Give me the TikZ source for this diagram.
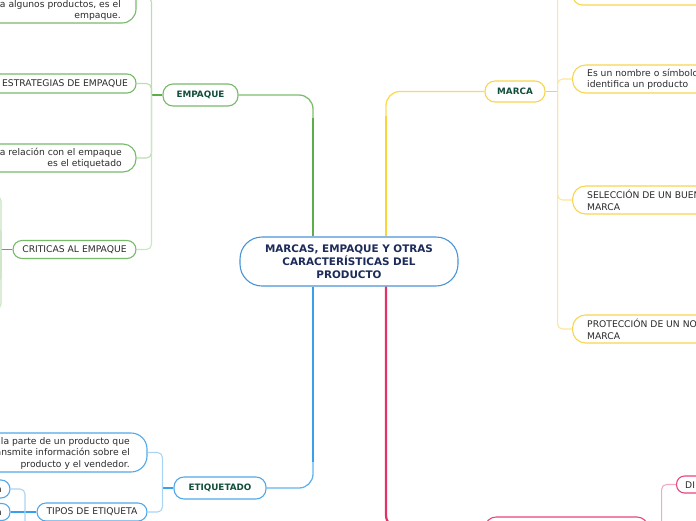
\documentclass[tikz,border=0pt]{standalone}
\usepackage{fontspec}
\setmainfont{DejaVu Sans}
\definecolor{gmain}{HTML}{5DAE4B}
\definecolor{gbord}{HTML}{78B96A}
\definecolor{glite}{HTML}{BADDB1}
\definecolor{ymain}{HTML}{F9D535}
\definecolor{ybord}{HTML}{F8D64C}
\definecolor{ylite}{HTML}{FCE69A}
\definecolor{bmain}{HTML}{38A0EA}
\definecolor{bcent}{HTML}{4A94D8}
\definecolor{bbord}{HTML}{52A8E8}
\definecolor{blite}{HTML}{A9D4F4}
\definecolor{pmain}{HTML}{E5306A}
\definecolor{pbord}{HTML}{E8457A}
\definecolor{plite}{HTML}{F5A9C4}
\definecolor{lblgreen}{HTML}{114F3A}
\definecolor{navy}{HTML}{1C2B59}
\definecolor{txt}{HTML}{2B2B2B}
\tikzset{
  box/.style={draw, line width=1.1pt, fill=white, inner sep=0pt},
  lbl/.style={font=\fontsize{9.2}{11.5}\selectfont, text=txt, inner sep=0pt},
  hdr/.style={font=\bfseries\fontsize{8.8}{10}\selectfont, text=lblgreen},
  thick main/.style={line width=2.2pt},
  mid main/.style={line width=1.3pt},
  sub/.style={line width=1.1pt, rounded corners=5pt},
}
\begin{document}
\begin{tikzpicture}[x=1pt,y=-1pt]
\useasboundingbox (0,0) rectangle (696,520);
\clip (0,0) rectangle (696,520);
\coordinate (gx) at (313,0);
\coordinate (yx) at (386,0);

% central
\node[box, draw=bcent, minimum width=218pt, minimum height=49pt, rounded corners=22pt,
      align=center, font=\bfseries\fontsize{10.4}{13}\selectfont, text=navy] (c) at (349,261.5)
      {MARCAS, EMPAQUE Y OTRAS\\CARACTERÍSTICAS DEL\\PRODUCTO};

% main topic nodes
\node[box, draw=gbord, minimum width=75pt, minimum height=22pt, rounded corners=10pt, hdr] (emp) at (200.5,95) {EMPAQUE};
\node[box, draw=ybord, minimum width=60pt, minimum height=21pt, rounded corners=10pt, hdr] (mar) at (515,91.5) {MARCA};
\node[box, draw=bbord, minimum width=92pt, minimum height=22pt, rounded corners=10pt, hdr] (eti) at (220,488) {ETIQUETADO};
\node[box, draw=pbord, minimum width=163pt, minimum height=24pt, rounded corners=11pt] (pk) at (566.5,529) {};

% main connectors
\coordinate (gturn) at (313,118);
\coordinate (yturn) at (386,116);
\coordinate (bturn) at (313,462);
\draw[gmain, thick main] (c.north -| gx) -- (gturn);
\draw[gmain!80!white, mid main, rounded corners=14pt] (gturn) |- (emp.east);
\draw[ymain, thick main] (c.north -| yx) -- (yturn);
\draw[ymain!85!white, mid main, rounded corners=14pt] (yturn) |- (mar.west);
\draw[bmain, thick main] (c.south -| gx) -- (bturn);
\draw[bmain!80!white, mid main, rounded corners=14pt] (bturn) |- (eti.east);
\draw[pmain, thick main, rounded corners=14pt] (c.south -| yx) |- (pk.west);

% EMPAQUE children
\node[box, draw=gbord, minimum width=166pt, minimum height=52pt, rounded corners=14pt] (e1) at (53,-3) {};
\node[lbl, anchor=east, align=right] (e1t) at (121,10.5) {ra algunos productos, es el\\empaque.};
\node[box, draw=gbord, minimum width=156pt, minimum height=19pt, rounded corners=9pt] (e2) at (58,83.5) {};
\node[lbl, anchor=east] (e2t) at (128,84) {ESTRATEGIAS DE EMPAQUE};
\node[box, draw=gbord, minimum width=176pt, minimum height=28pt, rounded corners=13pt] (e3) at (48,158) {};
\node[lbl, anchor=east, align=right] (e3t) at (122,158.5) {a relación con el empaque\\es el etiquetado};
\node[box, draw=gbord, minimum width=123pt, minimum height=18pt, rounded corners=9pt, lbl] (e4) at (74.5,249.5) {CRITICAS AL EMPAQUE};

\draw[gmain, line width=1.1pt] (emp.west) -- ++(-11,0) coordinate (gv);
\draw[glite, sub] (gv) |- (e1.east);
\draw[glite, sub] (gv) |- (e2.east);
\draw[glite, sub] (gv) |- (e3.east);
\draw[glite!75!white, sub] (gv) |- (e4.east);

% CRITICAS children (off-screen)
\coordinate (k1) at (-10,196);
\coordinate (k2) at (-10,228);
\coordinate (k3) at (-10,282);
\coordinate (k4) at (-10,309);
\draw[gmain, line width=1.1pt] (e4.west) -- (1,249.5) coordinate (kv);
\draw[glite!80!white, sub] (kv) |- (k1);
\draw[glite!80!white, sub] (kv) |- (k2);
\draw[glite!80!white, sub] (kv) |- (k3);
\draw[glite!80!white, sub] (kv) |- (k4);

% MARCA children
\node[box, draw=ybord, minimum width=210pt, minimum height=22pt, rounded corners=10pt, anchor=west] (m0) at (572,-6) {};
\node[lbl, anchor=west] (m0t) at (587,-5) {RAZONES PARA MARCAR};
\node[box, draw=ybord, minimum width=210pt, minimum height=28pt, rounded corners=13pt, anchor=west] (m1) at (572,79) {};
\node[lbl, anchor=west, align=left] (m1t) at (587,79.5) {Es un nombre o símbolo que\\identifica un producto};
\node[box, draw=ybord, minimum width=210pt, minimum height=28pt, rounded corners=13pt, anchor=west] (m2) at (572,200) {};
\node[lbl, anchor=west, align=left] (m2t) at (587,200.5) {SELECCIÓN DE UN BUEN NOMBRE DE\\MARCA};
\node[box, draw=ybord, minimum width=210pt, minimum height=28pt, rounded corners=13pt, anchor=west] (m3) at (572,329) {};
\node[lbl, anchor=west, align=left] (m3t) at (587,329.5) {PROTECCIÓN DE UN NOMBRE DE\\MARCA};

\draw[ymain, line width=1.1pt] (mar.east) -- ++(12,0) coordinate (yv);
\draw[ylite, sub] (yv) |- (m0.west);
\draw[ylite, sub] (yv) |- (m1.west);
\draw[ylite, sub] (yv) |- (m2.west);
\draw[ylite, sub] (yv) |- (m3.west);

% ETIQUETADO children
\node[box, draw=bbord, minimum width=177pt, minimum height=39pt, rounded corners=16pt] (t1) at (58.5,452.5) {};
\node[lbl, anchor=east, align=right] (t1t) at (130,453) {la parte de un producto que\\ansmite información sobre el\\producto y el vendedor.};
\node[box, draw=bbord, minimum width=110pt, minimum height=18pt, rounded corners=9pt, lbl] (t2) at (92,512) {TIPOS DE ETIQUETA};

\draw[bmain, line width=1.1pt] (eti.west) -- ++(-11,0) coordinate (bv);
\draw[blite, sub] (bv) |- (t1.east);
\draw[blite, sub] (bv) |- (t2.east);

% TIPOS children
\node[box, draw=bbord, minimum width=50pt, minimum height=18pt, rounded corners=9pt] (a1) at (-15,489) {};
\node[lbl, anchor=east] (a1t) at (2,489.5) {a};
\node[box, draw=bbord, minimum width=50pt, minimum height=17pt, rounded corners=8pt] (a2) at (-15,512) {};
\node[lbl, anchor=east] (a2t) at (2,512.5) {a};
\coordinate (a3) at (10,540);
\draw[bmain, line width=1.1pt] (t2.west) -- (a2.east);
\draw[blite, sub] (a1.east) -| (25,540);

% pink children
\node[box, draw=pbord, minimum width=60pt, minimum height=17pt, rounded corners=8pt, anchor=west] (di) at (676,484.5) {};
\node[lbl, anchor=west] (dit) at (685,485) {DI};
\draw[pmain, line width=1.1pt] (pk.east) -- ++(13,0) coordinate (pv);
\draw[plite, sub] (pv) |- (di.west);
\end{tikzpicture}
\end{document}
